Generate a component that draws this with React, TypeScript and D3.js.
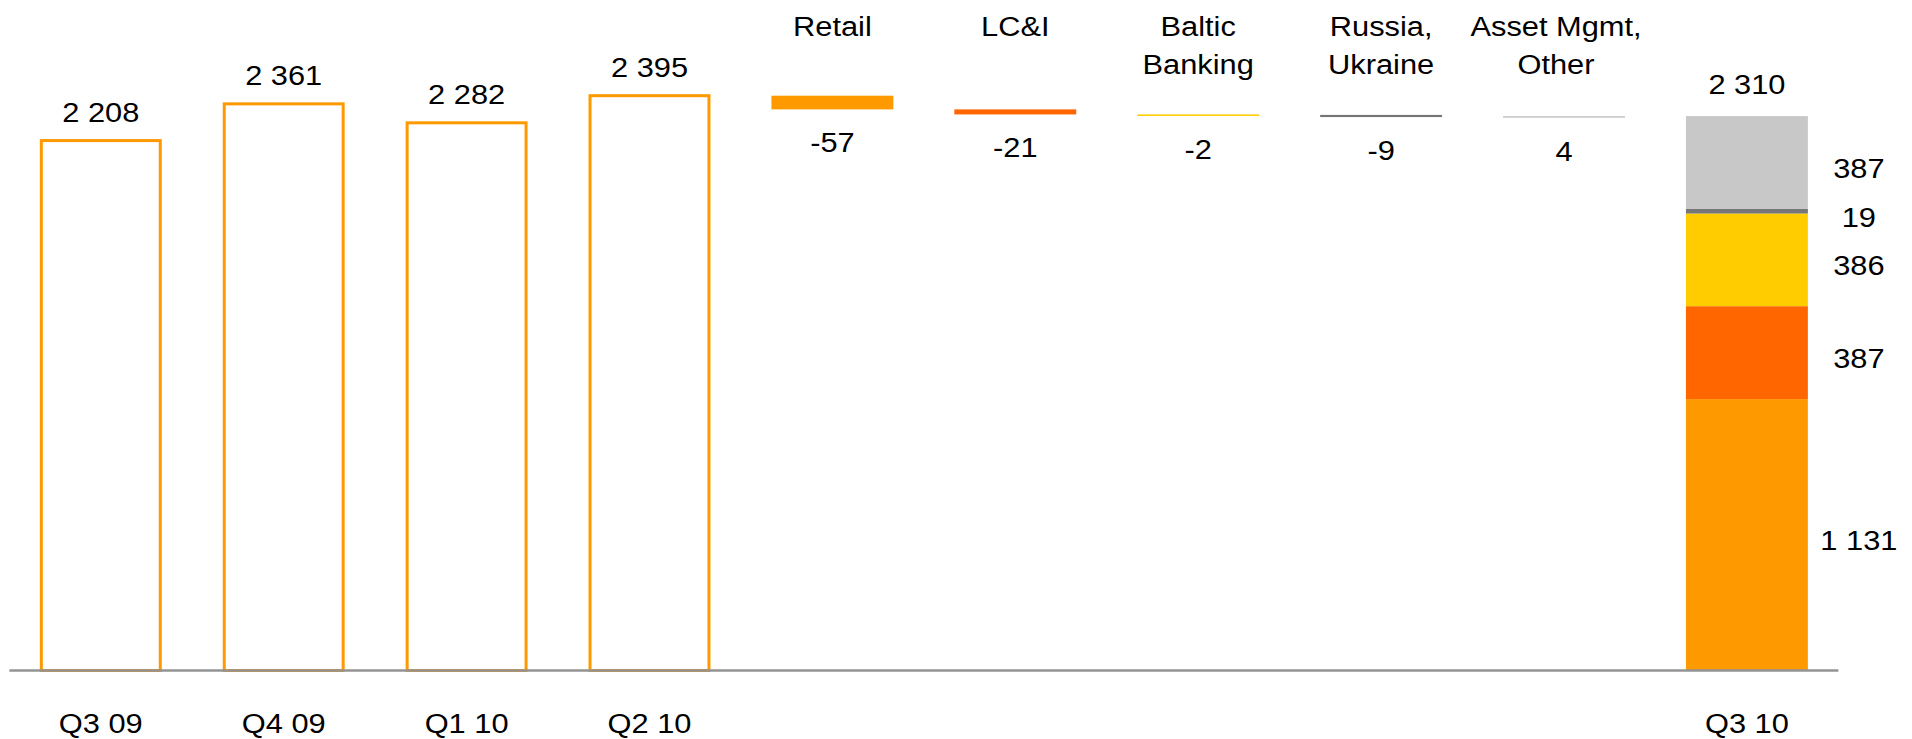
import React from "react";
import * as d3 from "d3";

// ---------- data ----------
const quarterLabels = ["Q3 09", "Q4 09", "Q1 10", "Q2 10"];
const quarterValues = [2208, 2361, 2282, 2395];

const segmentHeaders = [["Retail"], ["LC&I"], ["Baltic", "Banking"], ["Russia,", "Ukraine"], ["Asset Mgmt,", "Other"]];
const segmentKeys = ["Retail", "LC&I", "Baltic Banking", "Russia, Ukraine", "Asset Mgmt, Other"];
const segmentChanges = [-57, -21, -2, -9, 4];
const segmentColors = ["#FF9900", "#FF6600", "#FFCC00", "#767676", "#C8C8C8"];

const finalLabel = "Q3 10";
const finalTotal = 2310;
const finalBreakdown = [1131, 387, 386, 19, 387];

const categories = [...quarterLabels, ...segmentKeys, finalLabel];

// ---------- layout ----------
const W = 1912;
const H = 739;
const FONT = "'Liberation Sans', Arial, Helvetica, sans-serif";
const FS = 28;
const STRETCH = 1.1;
const HEADER_DX = [0, 0, 0, 0, -8];

const locale = d3.formatLocale({ decimal: ".", thousands: " ", grouping: [3], currency: ["", ""], minus: "-" });
const fmt = locale.format(",d");

function Label({ x, y, children }: { x: number; y: number; children: React.ReactNode }) {
  return (
    <text
      transform={`translate(${x},${y}) scale(${STRETCH},1)`}
      textAnchor="middle"
      style={{ fontFamily: FONT, fontSize: FS, fill: "#000" }}
    >
      {children}
    </text>
  );
}

export default function App() {
  const x = d3.scaleBand<string>().domain(categories).range([9.35, 1838.35]).paddingInner(1 / 3).paddingOuter(1 / 6);
  const y = d3.scaleLinear().domain([0, 2800]).range([670.5, -1.5]);
  const bw = x.bandwidth();
  const y0 = y(0);

  // waterfall steps
  let running = quarterValues[quarterValues.length - 1];
  const steps = segmentChanges.map((c, i) => {
    const from = running;
    const to = running + c;
    running = to;
    return { key: segmentKeys[i], from, to, change: c, color: segmentColors[i], header: segmentHeaders[i], dx: HEADER_DX[i] };
  });

  // stacked final bar
  let acc = 0;
  const stack = finalBreakdown.map((v, i) => {
    const s = { v0: acc, v1: acc + v, value: v, color: segmentColors[i] };
    acc += v;
    return s;
  });

  return (
    <svg width={W} height={H} style={{ position: "absolute", left: 0, top: 0, background: "#fff" }}>
      {/* outlined quarter bars */}
      {quarterLabels.map((q, i) => {
        const v = quarterValues[i];
        const bx = x(q)!;
        return (
          <g key={q}>
            <rect x={bx + 1.5} y={y(v)} width={bw - 3} height={y0 - y(v)} fill="#fff" stroke="#FF9900" strokeWidth={3} />
            <Label x={bx + bw / 2} y={y(v) - 19}>{fmt(v)}</Label>
          </g>
        );
      })}

      {/* waterfall steps */}
      {steps.map((s) => {
        const bx = x(s.key)!;
        const top = Math.min(y(s.from), y(s.to));
        const bot = Math.max(y(s.from), y(s.to));
        const h = Math.max(bot - top, 1.6);
        return (
          <g key={s.key}>
            <rect x={bx} y={top} width={bw} height={h} fill={s.color} />
            <Label x={bx + bw / 2} y={top + h + 43}>{fmt(s.change)}</Label>
            {s.header.map((line, li) => (
              <Label key={li} x={bx + bw / 2 + s.dx} y={36 + li * 37.5}>{line}</Label>
            ))}
          </g>
        );
      })}

      {/* final stacked bar */}
      {stack.map((s, i) => {
        const bx = x(finalLabel)!;
        return (
          <g key={i}>
            <rect x={bx} y={y(s.v1)} width={bw} height={y(s.v0) - y(s.v1)} fill={s.color} />
            <Label x={bx + bw + 51} y={(y(s.v0) + y(s.v1)) / 2 + 15.5}>{fmt(s.value)}</Label>
          </g>
        );
      })}
      <Label x={x(finalLabel)! + bw / 2} y={y(finalTotal) - 22}>{fmt(finalTotal)}</Label>

      {/* baseline */}
      <line x1={x.range()[0]} x2={x.range()[1]} y1={y0} y2={y0} stroke="#939393" strokeWidth={2.5} />

      {/* category labels */}
      {[...quarterLabels, finalLabel].map((c) => (
        <Label key={c} x={x(c)! + bw / 2} y={732.5}>{c}</Label>
      ))}
    </svg>
  );
}
